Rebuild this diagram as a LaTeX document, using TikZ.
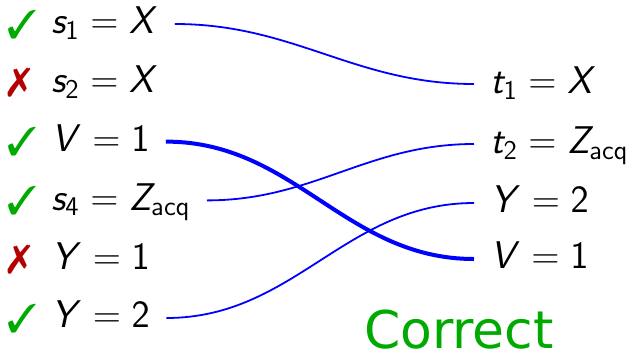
\RequirePackage{fix-cm}
\documentclass[tikz,border=0pt]{standalone}
\usepackage{amsmath}
\usepackage[no-math]{fontspec}
\usepackage{pifont}
\usepackage{tikz}
\usetikzlibrary{positioning}

% fórmulas en sans (como beamer)
\DeclareSymbolFont{operators}{OT1}{cmss}{m}{n}
\DeclareSymbolFont{letters}{OT1}{cmss}{m}{sl}
\SetMathAlphabet{\mathrm}{normal}{OT1}{cmss}{m}{n}
\newfontfamily\verdictfont{DejaVu Sans}

\definecolor{okgreen}{RGB}{0,170,0}
\definecolor{badred}{RGB}{180,0,0}
\definecolor{linkblue}{RGB}{0,0,255}

\begin{document}
\begin{tikzpicture}[
    x=0.5pt,
    y=-0.5pt,
    % estilos de las etiquetas y de los enlaces
    eqn/.style={anchor=west, inner xsep=8pt, inner ysep=0pt, text height=14pt, text depth=4.2pt,
        font=\fontsize{19.3}{23}\selectfont},
    okmark/.style={text=okgreen, font=\fontsize{20}{24}\selectfont},
    badmark/.style={text=badred, font=\fontsize{20}{24}\selectfont},
    link/.style={draw=linkblue, line width=0.9pt},
    strong link/.style={draw=linkblue, line width=2pt},
    verdict/.style={text=okgreen, inner sep=0pt, font=\fontsize{26}{30}\selectfont\verdictfont}
]
    \useasboundingbox (0,0) rectangle (628,355);

    % --- 1. COLUMNA IZQUIERDA ---
    \node[okmark]  (m1) at (22,25)    {\ding{51}};
    \node[badmark] (m2) at (19,83)    {\ding{55}};
    \node[okmark]  (m3) at (22,142)   {\ding{51}};
    \node[okmark]  (m4) at (22,201)   {\ding{51}};
    \node[badmark] (m5) at (19,260)   {\ding{55}};
    \node[okmark]  (m6) at (22,319)   {\ding{51}};

    \node[eqn] (s1) at (35,24)    {$s_1 = X$};
    \node[eqn] (s2) at (35,82.8)  {$s_2 = X$};
    \node[eqn] (v1) at (35,141.6) {$V = 1$};
    \node[eqn] (s4) at (35,200.4) {$s_4 = Z_{\mathrm{acq}}$};
    \node[eqn] (y1) at (35,259.2) {$Y = 1$};
    \node[eqn] (y2) at (35,318)   {$Y = 2$};

    % --- 2. COLUMNA DERECHA ---
    \node[eqn] (t1) at (474,84)  {$t_1 = X$};
    \node[eqn] (t2) at (474,144) {$t_2 = Z_{\mathrm{acq}}$};
    \node[eqn] (ty) at (474,203) {$Y = 2$};
    \node[eqn] (tv) at (474,259) {$V = 1$};

    % --- 3. ENLACES ---
    \draw[link] (s1.east) to[out=0, in=180] (t1.west);
    \draw[strong link] (v1.east) to[out=0, in=180] (tv.west);
    \draw[link] (s4.east) to[out=0, in=180] (t2.west);
    \draw[link] (y2.east) to[out=0, in=180] (ty.west);

    % --- 4. RESULTADO ---
    \node[verdict] (result) at (459,330) {Correct};

\end{tikzpicture}
\end{document}
